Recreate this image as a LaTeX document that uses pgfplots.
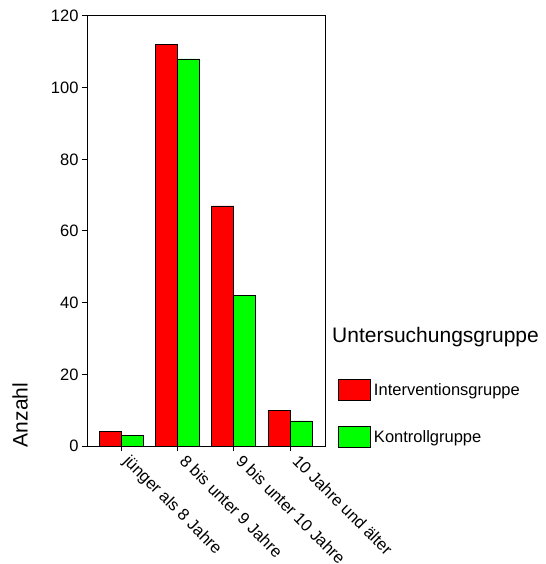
\documentclass[border=0pt]{standalone}
\usepackage{fontspec}
\setmainfont{Liberation Sans}
\usepackage{pgfplots}
\pgfplotsset{compat=1.18}
\newcommand\fs{\fontsize{16.5bp}{19bp}\selectfont}
\newcommand\fl{\fontsize{21bp}{25bp}\selectfont}
\begin{document}
\begin{tikzpicture}
\useasboundingbox (0,0) rectangle (546bp,564bp);
\begin{axis}[
  at={(87bp,118bp)}, anchor=south west,
  scale only axis, width=238bp, height=430bp,
  ybar=0pt, bar width=22bp,
  xmin=-0.604, xmax=3.621, ymin=0, ymax=120,
  xtick={0,1,2,3},
  xticklabels={jünger als 8 Jahre, 8 bis unter 9 Jahre, 9 bis unter 10 Jahre, 10 Jahre und älter},
  ytick={0,20,...,120},
  tick align=outside, major tick length=5bp,
  tick pos=left,
  axis line style={line width=1bp, black},
  tick style={line width=1bp, black},
  /pgf/number format/assume math mode=true,
  tick label style={font=\fs},
  xticklabel style={xshift=10bp, yshift=-1bp, rotate=-45, anchor=north west, inner sep=1bp},
  ylabel={Anzahl},
  ylabel style={font=\fl, at={(rel axis cs:-0.2815,0.072)}, anchor=center},
  legend style={at={(rel axis cs:1.0546,0.156)}, anchor=north west, draw=none, fill=none,
    inner sep=0pt, font=\fs, row sep=25bp, column sep=2bp,
    nodes={inner sep=1bp}},
  legend cell align=left,
  legend image code/.code={\draw[#1,draw=black,line width=0.8bp] (0bp,-10bp) rectangle (32bp,11bp);},
]
\addplot[fill={rgb,255:red,255;green,0;blue,0}, draw=black, line width=0.8bp]
  coordinates {(0,4) (1,112) (2,67) (3,10)};
\addplot[fill={rgb,255:red,0;green,255;blue,0}, draw=black, line width=0.8bp]
  coordinates {(0,3) (1,108) (2,42) (3,7)};
\legend{Interventionsgruppe, Kontrollgruppe}
\end{axis}
\node[anchor=base west, font=\fl, inner sep=0pt] at (332bp,221bp) {Untersuchungsgruppe};
\end{tikzpicture}
\end{document}
